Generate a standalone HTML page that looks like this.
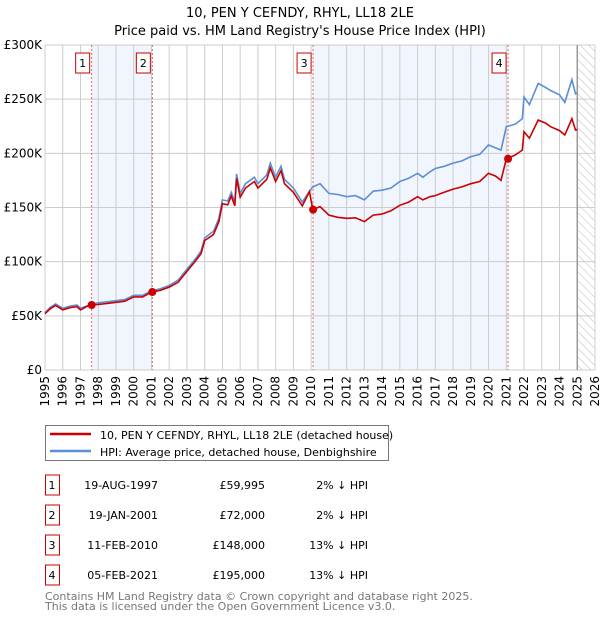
<!DOCTYPE html>
<html><head><meta charset="utf-8"><style>
body{margin:0;background:#fff;font-family:"Liberation Sans","DejaVu Sans",sans-serif}
svg text{font-family:"DejaVu Sans","Liberation Sans",sans-serif}
</style></head><body>
<svg id="chart" width="600" height="620" viewBox="0 0 600 620" xmlns="http://www.w3.org/2000/svg">
<defs>
<pattern id="hatch" width="6" height="6" patternUnits="userSpaceOnUse" patternTransform="rotate(-45)">
<line x1="0" y1="0" x2="0" y2="6" stroke="#bbb" stroke-width="1"/></pattern>
</defs>
<text x="300" y="17" text-anchor="middle" font-size="13" fill="#000">10, PEN Y CEFNDY, RHYL, LL18 2LE</text>
<text x="300" y="35" text-anchor="middle" font-size="13" fill="#000">Price paid vs. HM Land Registry's House Price Index (HPI)</text>
<g id="plot"></g>
<g>
<rect x="45.5" y="425.5" width="343" height="35" fill="#fff" stroke="#777"/>
<line x1="50" y1="434" x2="91" y2="434" stroke="#cc0000" stroke-width="2.5"/>
<text x="100" y="439" font-size="11">10, PEN Y CEFNDY, RHYL, LL18 2LE (detached house)</text>
<line x1="50" y1="451" x2="91" y2="451" stroke="#5b8fd4" stroke-width="2.5"/>
<text x="100" y="456" font-size="11">HPI: Average price, detached house, Denbighshire</text>
</g>
<g id="table" font-size="11"></g>
<text x="45" y="600" font-size="11" fill="#777">Contains HM Land Registry data © Crown copyright and database right 2025.</text>
<text x="45" y="610" font-size="11" fill="#777">This data is licensed under the Open Government Licence v3.0.</text>
</svg>
<script>
const years=[1995,1996,1997,1998,1999,2000,2001,2002,2003,2004,2005,2006,2007,2008,2009,2010,2011,2012,2013,2014,2015,2016,2017,2018,2019,2020,2021,2022,2023,2024,2025,2026];
const yTicks=[0,50000,100000,150000,200000,250000,300000];
const yTickLabels=["£0","£50K","£100K","£150K","£200K","£250K","£300K"];
const dates=[1995.0,1995.3,1995.6,1996.0,1996.4,1996.8,1997.0,1997.5,1998.0,1998.5,1999.0,1999.5,2000.0,2000.5,2001.0,2001.5,2002.0,2002.5,2003.0,2003.5,2003.8,2004.0,2004.5,2004.8,2005.0,2005.3,2005.5,2005.7,2005.8,2006.0,2006.3,2006.8,2007.0,2007.5,2007.7,2008.0,2008.3,2008.5,2009.0,2009.5,2009.9,2010.1,2010.5,2011.0,2011.5,2012.0,2012.5,2013.0,2013.5,2014.0,2014.5,2015.0,2015.5,2016.0,2016.3,2016.7,2017.0,2017.5,2018.0,2018.5,2019.0,2019.5,2020.0,2020.4,2020.7,2021.0,2021.5,2021.9,2022.0,2022.3,2022.8,2023.2,2023.5,2024.0,2024.3,2024.7,2024.9,2025.0];
const hpi=[53000,58000,61000,57000,59000,60000,57000,60000,62000,63000,64000,65000,69000,69000,73000,75000,78000,83000,93000,103000,110000,122000,128000,140000,157000,156000,164000,155000,181000,163000,172000,178000,172000,180000,191000,178000,188000,176000,168000,155000,165000,169000,172000,163000,162000,160000,161000,157000,165000,166000,168000,174000,177000,181600,178000,183000,186000,188000,191000,193000,197000,199000,207700,205000,203000,224600,227000,232000,252000,245000,264600,261000,258000,254000,247000,268000,255000,256000];
const paid=[52000,56500,59500,55500,57500,58500,55500,59995,60500,61500,62500,63500,67500,67500,72000,73500,76500,81000,91000,101000,107500,119500,125000,137000,153500,152500,160500,151500,177000,159500,168000,174000,168000,176000,186500,174000,184000,172000,164000,151500,164600,148000,150800,143000,141000,140000,140500,137000,143000,144000,147000,152000,155000,160000,157000,160000,161000,164000,167000,169000,172000,174000,181600,179000,175000,195000,198500,203000,220000,214000,230800,228000,224600,221000,216900,232000,221500,222000];
const saleDates=[1997.63,2001.05,2010.11,2021.1];
const salePrices=[59995,72000,148000,195000];
const saleLabels=["1","2","3","4"];
const saleDateText=["19-AUG-1997","19-JAN-2001","11-FEB-2010","05-FEB-2021"];
const salePriceText=["£59,995","£72,000","£148,000","£195,000"];
const saleDiffText=["2% ↓ HPI","2% ↓ HPI","13% ↓ HPI","13% ↓ HPI"];

const NS="http://www.w3.org/2000/svg";
const X0=45,X1=595,Y0=370,Y1=45;
const xs=d=>X0+(d-1995)/(2026-1995)*(X1-X0);
const ys=v=>Y0-v/300000*(Y0-Y1);
const plot=document.getElementById('plot');
function mk(tag,attrs,parent){const e=document.createElementNS(NS,tag);for(const k in attrs)e.setAttribute(k,attrs[k]);(parent||plot).appendChild(e);return e;}

// shaded spans
for(let i=0;i<saleDates.length;i+=2){
 const r=mk('rect',{x:xs(saleDates[i]),y:Y1,width:xs(saleDates[i+1])-xs(saleDates[i]),height:Y0-Y1,fill:'#f1f5fd'});
 
 
}
const hz=mk('rect',{x:xs(2025.05),y:Y1,width:X1-xs(2025.05),height:Y0-Y1,fill:'url(#hatch)'});


// grid
years.forEach(y=>{
 const l=mk('line',{x1:xs(y),x2:xs(y),y1:Y1,y2:Y0,stroke:'#ccc','stroke-width':1});
 
 
 const t=mk('text',{x:0,y:0,'font-size':12,'text-anchor':'end',transform:`translate(${xs(y)+4},${Y0+6}) rotate(-90)`});
 t.textContent=y;
 
 
});
yTicks.forEach((v,i)=>{
 const l=mk('line',{x1:X0,x2:X1,y1:ys(v),y2:ys(v),stroke:'#ccc','stroke-width':1});
 
 
 const t=mk('text',{x:X0-3,y:ys(v)+4,'font-size':12,'text-anchor':'end'});
 t.textContent=yTickLabels[i];
 
 
});
const nowLine=mk('line',{x1:xs(2025.0),x2:xs(2025.0),y1:Y1,y2:Y0,stroke:'#999','stroke-width':1.5});


// sale markers vlines
saleDates.forEach((d,i)=>{
 const l=mk('line',{x1:xs(d),x2:xs(d),y1:Y1,y2:Y0,stroke:'#e06666','stroke-width':1,'stroke-dasharray':'2,2'});
 
 
 const b=mk('rect',{x:xs(d)-16,y:53,width:14,height:20,fill:'#fff',stroke:'#cc0000'});
 
 
 const t=mk('text',{x:xs(d)-9,y:67,'font-size':11,'text-anchor':'middle'});
 t.textContent=saleLabels[i];
 
 
});
const lp=arr=>arr.map((v,i)=>(i?'L':'M')+xs(dates[i]).toFixed(1)+','+ys(v).toFixed(1)).join('');
const hl=mk('path',{d:lp(hpi),fill:'none',stroke:'#5b8fd4','stroke-width':1.6});


const pl=mk('path',{d:lp(paid),fill:'none',stroke:'#cc0000','stroke-width':1.6});


saleDates.forEach((d,i)=>{
 const c=mk('circle',{cx:xs(d),cy:ys(salePrices[i]),r:4,fill:'#cc0000'});
 
 
});
// table
const tb=document.getElementById('table');
saleDates.forEach((d,i)=>{
 const cy=485+i*30;
 const b=mk('rect',{x:45.5,y:cy-10,width:14,height:20,fill:'#fff',stroke:'#cc0000'},tb);
 
 
 const cells=[[52,'middle',saleLabels[i]],[158,'end',saleDateText[i]],[265,'end',salePriceText[i]],[368,'end',saleDiffText[i]]];
 cells.forEach(c=>{
  const t=mk('text',{x:c[0],y:cy+4,'text-anchor':c[1]},tb);
  t.textContent=c[2];
  
  
 });
});
</script>
</body></html>
